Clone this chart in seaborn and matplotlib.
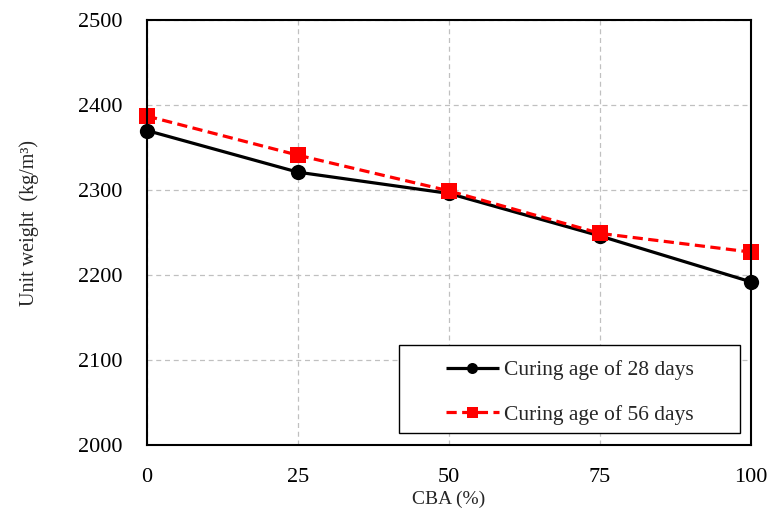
import matplotlib
matplotlib.use("Agg")
import matplotlib.pyplot as plt
from matplotlib.patches import Rectangle
import seaborn as sns
import pandas as pd

cba = [0, 25, 50, 75, 100]
uw_28 = [2370, 2321, 2296, 2246, 2192]
uw_56 = [2387, 2341, 2299, 2249, 2227]
labels = ["Curing age of 28 days", "Curing age of 56 days"]

df = pd.DataFrame({
    "CBA": cba * 2,
    "UW": uw_28 + uw_56,
    "Series": [labels[0]] * len(cba) + [labels[1]] * len(cba),
})

sns.set_theme(style="white")
plt.rcParams["font.family"] = ["Liberation Serif", "DejaVu Serif"]

fig = plt.figure(figsize=(7.67, 5.14), dpi=100)
ax = fig.add_axes([0.1917, 0.1342, 0.7873, 0.8268])

sns.lineplot(data=df, x="CBA", y="UW", hue="Series", style="Series",
             palette={labels[0]: "black", labels[1]: "#ff0000"},
             dashes={labels[0]: (1, 0), labels[1]: (3.2, 1.7)},
             markers={labels[0]: "o", labels[1]: "s"},
             markersize=11, markeredgewidth=0, linewidth=2.3, ax=ax)

ax.set_xlim(0, 100)
ax.set_ylim(2000, 2500)
ax.set_xticks(cba)
ax.set_yticks([2000, 2100, 2200, 2300, 2400, 2500])
ax.grid(True, color="#c0c0c0", linestyle=(0, (4, 3)), linewidth=0.9)
for s in ax.spines.values():
    s.set_color("black")
    s.set_linewidth(1.5)
ax.tick_params(axis="both", direction="in", length=6, width=1.3, colors="black",
               labelsize=16)
ax.tick_params(axis="y", pad=18)
ax.tick_params(axis="x", pad=16.5)
for m in ax.lines:
    m.set_clip_on(False)
ax.set_xlabel("CBA (%)", fontsize=14, labelpad=3)
ax.set_ylabel("Unit weight  (kg/m\u00b3)", fontsize=14.5)
ax.yaxis.set_label_coords(-0.179, 0.522)

leg = ax.legend(loc="center", bbox_to_anchor=(0.700, 0.124), fontsize=15.5,
                frameon=False, handlelength=2.46, borderpad=0,
                labelspacing=1.13, markerscale=0.72, handletextpad=0.25)
leg.set_title(None)
ax.add_patch(Rectangle((0.417, 0.028), 0.565, 0.207, transform=ax.transAxes,
                       fill=True, facecolor="white", edgecolor="black",
                       linewidth=1.0, zorder=4))
leg.set_zorder(5)

fig.savefig("out.png", dpi=100)
